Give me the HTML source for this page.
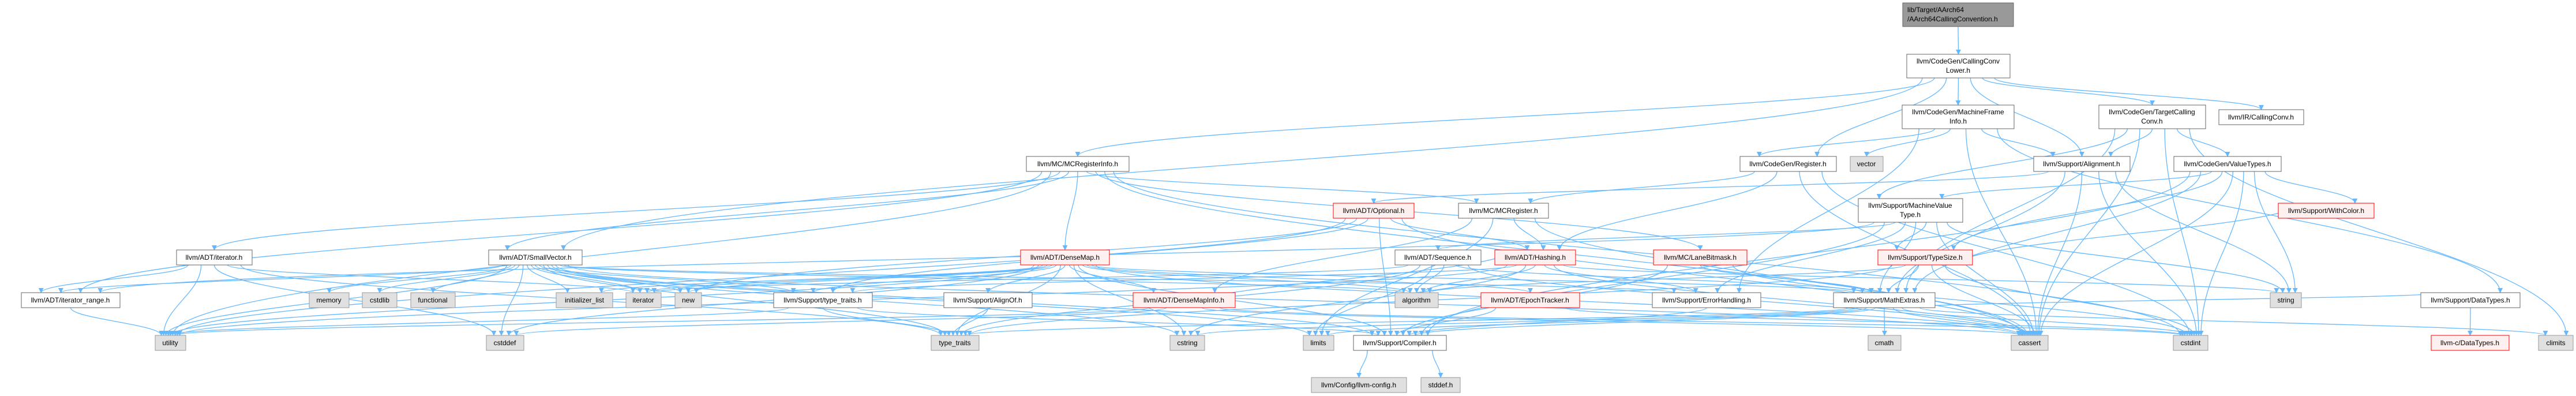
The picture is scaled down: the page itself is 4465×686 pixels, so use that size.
<!DOCTYPE html>
<html><head><meta charset="utf-8"><style>
html,body{margin:0;padding:0;background:#fff;}
svg{display:block;}
text{font-family:"Liberation Sans",Arial,sans-serif;font-size:12px;fill:#000;}
</style></head><body>
<svg id="g" width="4465" height="686" viewBox="0 0 4465 686" xmlns="http://www.w3.org/2000/svg">
<defs><marker id="a" viewBox="0 0 10 10" refX="9" refY="5" markerWidth="9" markerHeight="9" markerUnits="userSpaceOnUse" orient="auto"><path d="M0,0L10,5L0,10z" fill="#63b8ff"/></marker></defs>
<g id="edges" fill="none" stroke="#63b8ff" stroke-width="1.3"></g>
<g id="nodes">
<rect x="3298" y="5" width="192" height="41" fill="#999" stroke="#666"/><text x="3306" y="21">lib/Target/AArch64</text><text x="3306" y="37">/AArch64CallingConvention.h</text>
<rect x="3305" y="94" width="179" height="41" fill="#fff" stroke="#666"/><text x="3394" y="110" text-anchor="middle">llvm/CodeGen/CallingConv</text><text x="3394" y="126" text-anchor="middle">Lower.h</text>
<rect x="3297" y="182" width="194" height="41" fill="#fff" stroke="#666"/><text x="3394" y="198" text-anchor="middle">llvm/CodeGen/MachineFrame</text><text x="3394" y="214" text-anchor="middle">Info.h</text>
<rect x="3638" y="182" width="185" height="41" fill="#fff" stroke="#666"/><text x="3730" y="198" text-anchor="middle">llvm/CodeGen/TargetCalling</text><text x="3730" y="214" text-anchor="middle">Conv.h</text>
<rect x="3846" y="190" width="147" height="26" fill="#fff" stroke="#666"/><text x="3919" y="207" text-anchor="middle">llvm/IR/CallingConv.h</text>
<rect x="1779" y="271" width="178" height="26" fill="#fff" stroke="#666"/><text x="1868" y="288" text-anchor="middle">llvm/MC/MCRegisterInfo.h</text>
<rect x="3016" y="271" width="167" height="26" fill="#fff" stroke="#666"/><text x="3099" y="288" text-anchor="middle">llvm/CodeGen/Register.h</text>
<rect x="3207" y="271" width="57" height="26" fill="#e0e0e0" stroke="#999"/><text x="3235" y="288" text-anchor="middle">vector</text>
<rect x="3525" y="271" width="167" height="26" fill="#fff" stroke="#666"/><text x="3608" y="288" text-anchor="middle">llvm/Support/Alignment.h</text>
<rect x="3768" y="271" width="186" height="26" fill="#fff" stroke="#666"/><text x="3861" y="288" text-anchor="middle">llvm/CodeGen/ValueTypes.h</text>
<rect x="2311" y="352" width="140" height="26" fill="#fff0f0" stroke="#f00"/><text x="2381" y="369" text-anchor="middle">llvm/ADT/Optional.h</text>
<rect x="2528" y="352" width="156" height="26" fill="#fff" stroke="#666"/><text x="2606" y="369" text-anchor="middle">llvm/MC/MCRegister.h</text>
<rect x="3221" y="344" width="181" height="41" fill="#fff" stroke="#666"/><text x="3311" y="360" text-anchor="middle">llvm/Support/MachineValue</text><text x="3311" y="376" text-anchor="middle">Type.h</text>
<rect x="3949" y="352" width="166" height="26" fill="#fff0f0" stroke="#f00"/><text x="4032" y="369" text-anchor="middle">llvm/Support/WithColor.h</text>
<rect x="306" y="433" width="131" height="26" fill="#fff" stroke="#666"/><text x="371" y="450" text-anchor="middle">llvm/ADT/iterator.h</text>
<rect x="847" y="433" width="162" height="26" fill="#fff" stroke="#666"/><text x="928" y="450" text-anchor="middle">llvm/ADT/SmallVector.h</text>
<rect x="1769" y="433" width="154" height="26" fill="#fff0f0" stroke="#f00"/><text x="1846" y="450" text-anchor="middle">llvm/ADT/DenseMap.h</text>
<rect x="2418" y="433" width="149" height="26" fill="#fff" stroke="#666"/><text x="2492" y="450" text-anchor="middle">llvm/ADT/Sequence.h</text>
<rect x="2591" y="433" width="140" height="26" fill="#fff0f0" stroke="#f00"/><text x="2661" y="450" text-anchor="middle">llvm/ADT/Hashing.h</text>
<rect x="2866" y="433" width="162" height="26" fill="#fff0f0" stroke="#f00"/><text x="2947" y="450" text-anchor="middle">llvm/MC/LaneBitmask.h</text>
<rect x="3255" y="433" width="164" height="26" fill="#fff0f0" stroke="#f00"/><text x="3337" y="450" text-anchor="middle">llvm/Support/TypeSize.h</text>
<rect x="37" y="507" width="171" height="26" fill="#fff" stroke="#666"/><text x="122" y="524" text-anchor="middle">llvm/ADT/iterator_range.h</text>
<rect x="536" y="507" width="69" height="26" fill="#e0e0e0" stroke="#999"/><text x="570" y="524" text-anchor="middle">memory</text>
<rect x="628" y="507" width="60" height="26" fill="#e0e0e0" stroke="#999"/><text x="658" y="524" text-anchor="middle">cstdlib</text>
<rect x="712" y="507" width="77" height="26" fill="#e0e0e0" stroke="#999"/><text x="750" y="524" text-anchor="middle">functional</text>
<rect x="964" y="507" width="98" height="26" fill="#e0e0e0" stroke="#999"/><text x="1013" y="524" text-anchor="middle">initializer_list</text>
<rect x="1085" y="507" width="61" height="26" fill="#e0e0e0" stroke="#999"/><text x="1115" y="524" text-anchor="middle">iterator</text>
<rect x="1170" y="507" width="46" height="26" fill="#e0e0e0" stroke="#999"/><text x="1193" y="524" text-anchor="middle">new</text>
<rect x="1341" y="507" width="171" height="26" fill="#fff" stroke="#666"/><text x="1426" y="524" text-anchor="middle">llvm/Support/type_traits.h</text>
<rect x="1636" y="507" width="153" height="26" fill="#fff" stroke="#666"/><text x="1712" y="524" text-anchor="middle">llvm/Support/AlignOf.h</text>
<rect x="1964" y="507" width="177" height="26" fill="#fff0f0" stroke="#f00"/><text x="2052" y="524" text-anchor="middle">llvm/ADT/DenseMapInfo.h</text>
<rect x="2418" y="507" width="75" height="26" fill="#e0e0e0" stroke="#999"/><text x="2455" y="524" text-anchor="middle">algorithm</text>
<rect x="2567" y="507" width="171" height="26" fill="#fff0f0" stroke="#f00"/><text x="2652" y="524" text-anchor="middle">llvm/ADT/EpochTracker.h</text>
<rect x="2864" y="507" width="188" height="26" fill="#fff" stroke="#666"/><text x="2958" y="524" text-anchor="middle">llvm/Support/ErrorHandling.h</text>
<rect x="3178" y="507" width="176" height="26" fill="#fff" stroke="#666"/><text x="3266" y="524" text-anchor="middle">llvm/Support/MathExtras.h</text>
<rect x="3935" y="507" width="54" height="26" fill="#e0e0e0" stroke="#999"/><text x="3962" y="524" text-anchor="middle">string</text>
<rect x="4196" y="507" width="172" height="26" fill="#fff" stroke="#666"/><text x="4282" y="524" text-anchor="middle">llvm/Support/DataTypes.h</text>
<rect x="269" y="581" width="53" height="26" fill="#e0e0e0" stroke="#999"/><text x="295" y="598" text-anchor="middle">utility</text>
<rect x="843" y="581" width="65" height="26" fill="#e0e0e0" stroke="#999"/><text x="875" y="598" text-anchor="middle">cstddef</text>
<rect x="1614" y="581" width="83" height="26" fill="#e0e0e0" stroke="#999"/><text x="1655" y="598" text-anchor="middle">type_traits</text>
<rect x="2028" y="581" width="60" height="26" fill="#e0e0e0" stroke="#999"/><text x="2058" y="598" text-anchor="middle">cstring</text>
<rect x="2259" y="581" width="53" height="26" fill="#e0e0e0" stroke="#999"/><text x="2285" y="598" text-anchor="middle">limits</text>
<rect x="2346" y="581" width="161" height="26" fill="#fff" stroke="#666"/><text x="2426" y="598" text-anchor="middle">llvm/Support/Compiler.h</text>
<rect x="3238" y="581" width="57" height="26" fill="#e0e0e0" stroke="#999"/><text x="3266" y="598" text-anchor="middle">cmath</text>
<rect x="3486" y="581" width="64" height="26" fill="#e0e0e0" stroke="#999"/><text x="3518" y="598" text-anchor="middle">cassert</text>
<rect x="3767" y="581" width="60" height="26" fill="#e0e0e0" stroke="#999"/><text x="3797" y="598" text-anchor="middle">cstdint</text>
<rect x="4214" y="581" width="135" height="26" fill="#fff0f0" stroke="#f00"/><text x="4281" y="598" text-anchor="middle">llvm-c/DataTypes.h</text>
<rect x="4400" y="581" width="60" height="26" fill="#e0e0e0" stroke="#999"/><text x="4430" y="598" text-anchor="middle">climits</text>
<rect x="2273" y="654" width="165" height="26" fill="#e0e0e0" stroke="#999"/><text x="2355" y="671" text-anchor="middle">llvm/Config/llvm-config.h</text>
<rect x="2463" y="654" width="68" height="26" fill="#e0e0e0" stroke="#999"/><text x="2497" y="671" text-anchor="middle">stddef.h</text>
</g>
</svg>
<script>
var N={root:[3298,3490,5,46],ccl:[3305,3484,94,135],mfi:[3297,3491,182,223],tcc:[3638,3823,182,223],irc:[3846,3993,190,216],
mcri:[1779,1957,271,297],reg:[3016,3183,271,297],vec:[3207,3264,271,297],al:[3525,3692,271,297],vt:[3768,3954,271,297],
opt:[2311,2451,352,378],mcr:[2528,2684,352,378],mvt:[3221,3402,344,385],wc:[3949,4115,352,378],
it:[306,437,433,459],sv:[847,1009,433,459],dm:[1769,1923,433,459],seq:[2418,2567,433,459],hs:[2591,2731,433,459],lb:[2866,3028,433,459],ts:[3255,3419,433,459],
itr:[37,208,507,533],mem:[536,605,507,533],cstdlib:[628,688,507,533],fn:[712,789,507,533],il:[964,1062,507,533],iter:[1085,1146,507,533],nw:[1170,1216,507,533],tth:[1341,1512,507,533],ao:[1636,1789,507,533],dmi:[1964,2141,507,533],alg:[2418,2493,507,533],et:[2567,2738,507,533],eh:[2864,3052,507,533],me:[3178,3354,507,533],str:[3935,3989,507,533],dt:[4196,4368,507,533],
ut:[269,322,581,607],cd:[843,908,581,607],tt:[1614,1697,581,607],cs:[2028,2088,581,607],lim:[2259,2312,581,607],cmp:[2346,2507,581,607],cm:[3238,3295,581,607],ca:[3486,3550,581,607],ci:[3767,3827,581,607],lcd:[4214,4349,581,607],cl:[4400,4460,581,607],
cfg:[2273,2438,654,680],sd:[2463,2531,654,680]};
var E={root:"ccl",ccl:"mcri mfi reg tcc irc al sv",mfi:"reg al vec ca eh dt",tcc:"vt mvt al me ca cl ci",
vt:"mvt me ts wc ca ci str cmp",mcri:"dm it itr lb mcr ca ci ut sv",reg:"mcr ca ci hs",mcr:"hs dmi ca lim",
opt:"hs tth cmp ut nw ca",al:"opt me ca str ci",mvt:"eh me ts ca cmp itr seq str",
sv:"itr cmp eh tth alg ca cd cstdlib cs fn il iter lim mem nw tt ut",it:"itr cd iter tt ut",itr:"ut",
dm:"dmi et ao cmp me tth alg ca cd cs il iter nw tt ut",dmi:"hs ca cd ci ut",hs:"eh tth alg ca cs str ut",
seq:"me alg ca iter lim tt",lb:"cmp me ci",ts:"me wc alg ca ci tt",tth:"cmp tt ut",ao:"tt",et:"cmp ci",eh:"cmp",
me:"cmp ca cl cm ci cs lim tt dt",dt:"lcd",cmp:"cfg sd"};
var g=document.getElementById("edges"),out={},inn={};
for(var s in E){E[s].split(" ").forEach(function(t){(out[s]=out[s]||[]).push(t);(inn[t]=inn[t]||[]).push(s);});}
function cx(n){return (N[n][0]+N[n][1])/2;}
for(var s in out){var L=out[s].slice().sort(function(a,b){return cx(a)-cx(b);});
 L.forEach(function(t,i){var S=N[s],T=N[t];
  var w=S[1]-S[0],sx=S[0]+w*0.15+w*0.7*(L.length>1?i/(L.length-1):0.5),sy=S[3];
  var I=inn[t].slice().sort(function(a,b){return cx(a)-cx(b);}),j=I.indexOf(s),tw=T[1]-T[0];
  var ex=T[0]+tw*0.2+tw*0.6*(I.length>1?j/(I.length-1):0.5),ey=T[2];
  var dy=ey-sy;
  var p=document.createElementNS("http://www.w3.org/2000/svg","path");
  p.setAttribute("d","M"+sx+","+sy+" C"+sx+","+(sy+dy*0.4)+" "+ex+","+(ey-dy*0.4)+" "+ex+","+ey);
  p.setAttribute("marker-end","url(#a)");g.appendChild(p);});}
</script>
</body></html>
